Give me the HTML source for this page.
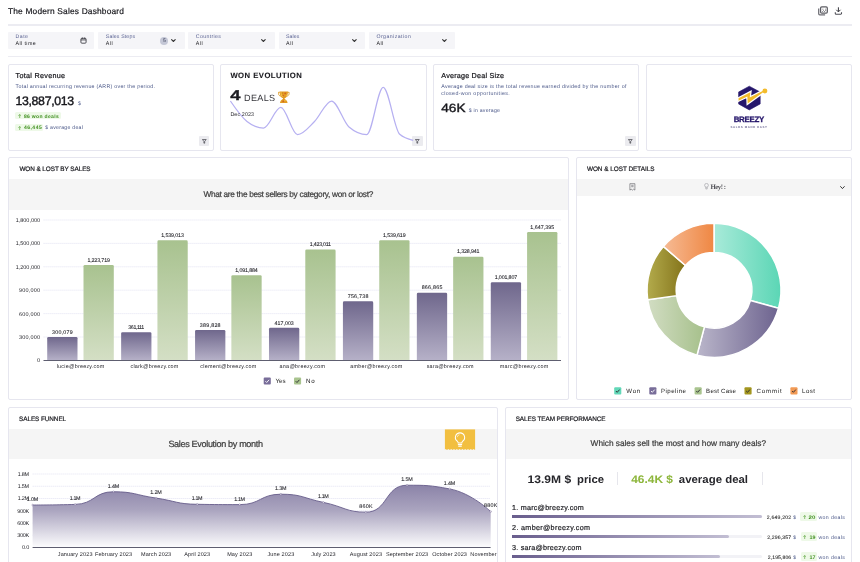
<!DOCTYPE html>
<html><head><meta charset="utf-8"><title>The Modern Sales Dashboard</title>
<style>
*{box-sizing:border-box;margin:0;padding:0}
svg{text-rendering:geometricPrecision;will-change:transform}
html,body{width:860px;height:562px;overflow:hidden;background:#fff;font-family:"Liberation Sans",sans-serif;color:#1f1f24}
.a{position:absolute;white-space:nowrap;line-height:1}
.card{position:absolute;background:#fff;border:1px solid #e6e6ef;border-radius:2px}
.hr{position:absolute;left:8px;width:844px;height:1.5px;background:#ececf2}
.fb{position:absolute;top:32px;height:17px;background:#f5f5f8;border-radius:1px}
.band{position:absolute;background:#f5f5f5}
.fbtn{position:absolute;width:10.2px;height:9.8px;background:#ebebef;border-radius:1px}
.badge{position:absolute;background:#eef9e8;border-radius:1.5px}
</style></head><body style="filter:blur(.3px)">

<svg class="a" style="left:817px;top:5px" width="12" height="12" viewBox="817 5 12 12" fill="none" stroke="#5c5c63" stroke-width="1.25"><rect x="820.6" y="6.8" width="6.7" height="6.3" rx="1.2"/><path d="M818.7 8.400v5.400a1 1 0 0 0 1 1h5.400" stroke="#6d6d74"/><path d="M822.2 11.900l1.300-1.300 1.100 1 1.300-1.400M822.4 9.200h1M825 9.200h.8" stroke-width=".8" stroke="#55555c"/></svg>
<svg class="a" style="left:833px;top:5px" width="12" height="12" viewBox="833 5 12 12" fill="none" stroke="#34343b" stroke-width="1"><path d="M838.4 7.300v4.300M836.300 9.800l2.100 2.100 2.100-2.100"/><path d="M835.300 12.200v1.200a.8.800 0 0 0 .8.800h4.600a.8.800 0 0 0 .8-.8v-1.200" stroke="#4d4d55" stroke-width="1.100"/></svg>
<div class="hr" style="top:24px"></div><div class="hr" style="top:55.700px"></div>
<div class="fb" style="left:8.0px;width:86.2px"></div>
<svg class="a" style="left:80.2px;top:37.300px" width="7" height="7" viewBox="0 0 7 7" fill="none" stroke="#2d2d35" stroke-width=".8"><rect x=".9" y="1.300" width="5.200" height="4.900" rx="1"/><path d="M.9 2.900h5.200M2.300.5v1.300M4.700.5v1.300"/></svg>
<div class="fb" style="left:98.2px;width:86.5px"></div>
<div class="a" style="left:160.200px;top:36.600px;width:8px;height:8px;border-radius:50%;background:#c4c7d6"></div>
<svg class="a" style="left:171.4px;top:38.9px" width="4.8" height="3.1" viewBox="0 0 4.8 3.1" fill="none" stroke="#333" stroke-width="1.1" stroke-linecap="round"><path d="M.6.600L2.40 2.50L4.20 .6"/></svg>
<div class="fb" style="left:188.2px;width:86.6px"></div>
<svg class="a" style="left:261.4px;top:38.9px" width="4.8" height="3.1" viewBox="0 0 4.8 3.1" fill="none" stroke="#333" stroke-width="1.1" stroke-linecap="round"><path d="M.6.600L2.40 2.50L4.20 .6"/></svg>
<div class="fb" style="left:278.5px;width:86.2px"></div>
<svg class="a" style="left:351.7px;top:38.9px" width="4.8" height="3.1" viewBox="0 0 4.8 3.1" fill="none" stroke="#333" stroke-width="1.1" stroke-linecap="round"><path d="M.6.600L2.40 2.50L4.20 .6"/></svg>
<div class="fb" style="left:368.8px;width:86.2px"></div>
<svg class="a" style="left:442.0px;top:38.9px" width="4.8" height="3.1" viewBox="0 0 4.8 3.1" fill="none" stroke="#333" stroke-width="1.1" stroke-linecap="round"><path d="M.6.600L2.40 2.50L4.20 .6"/></svg>
<div class="card" style="left:8px;top:64px;width:206px;height:87px"></div>
<div class="card" style="left:220px;top:64px;width:207px;height:87px"></div>
<div class="card" style="left:433px;top:64px;width:206px;height:87px"></div>
<div class="card" style="left:646px;top:64px;width:206px;height:87px"></div>
<div class="fbtn" style="left:199.2px;top:136px"><svg style="position:absolute;left:2.800px;top:2.900px" width="4.600" height="4.600" viewBox="0 0 4.600 4.600" fill="none" stroke="#33333a" stroke-width=".65"><path d="M.4.500h3.800L2.700 2.400v1.800H1.900V2.400z"/></svg></div>
<div class="fbtn" style="left:412.4px;top:136px"><svg style="position:absolute;left:2.800px;top:2.900px" width="4.600" height="4.600" viewBox="0 0 4.600 4.600" fill="none" stroke="#33333a" stroke-width=".65"><path d="M.4.500h3.800L2.700 2.400v1.800H1.900V2.400z"/></svg></div>
<div class="fbtn" style="left:625.4px;top:136px"><svg style="position:absolute;left:2.800px;top:2.900px" width="4.600" height="4.600" viewBox="0 0 4.600 4.600" fill="none" stroke="#33333a" stroke-width=".65"><path d="M.4.500h3.800L2.700 2.400v1.800H1.900V2.400z"/></svg></div>
<div class="badge" style="left:15.300px;top:112.300px;width:45.300px;height:7.200px"></div>
<svg class="a" style="left:17.70px;top:113.90px" width="3.4" height="4.2" viewBox="0 0 3.4 4.2" fill="none" stroke="#58a238" stroke-width=".65"><path d="M1.7 4.2V.5M.4 1.900L1.700.5 3 1.900"/></svg>
<div class="badge" style="left:15.300px;top:123.800px;width:28.200px;height:7.400px"></div>
<svg class="a" style="left:17.70px;top:125.60px" width="3.4" height="4.2" viewBox="0 0 3.4 4.2" fill="none" stroke="#58a238" stroke-width=".65"><path d="M1.7 4.2V.5M.4 1.900L1.700.5 3 1.900"/></svg>
<svg class="a" style="left:221px;top:64px" width="206" height="87" viewBox="221 64 206 87" fill="none"><path d="M230.40 101.00C235.93 109.07 241.47 117.14 247.00 121.50C252.50 125.83 258.00 128.00 263.50 128.00C269.27 128.00 275.03 107.40 280.80 107.40C286.37 107.40 291.93 134.60 297.50 134.60C303.17 134.60 308.83 127.10 314.50 121.50C320.17 115.90 325.83 101.00 331.50 101.00C337.33 101.00 343.17 121.99 349.00 127.00C354.90 132.07 360.80 134.60 366.70 134.60C372.20 134.60 377.70 87.40 383.20 87.40C388.70 87.40 394.20 129.41 399.70 134.30C404.20 138.30 408.70 139.30 413.20 140.30" stroke="#b6b0f1" stroke-width="1.25"/></svg>
<svg class="a" style="left:277px;top:90px" width="14" height="14" viewBox="277 90 14 14"><path d="M279.800 92.300h-1.300v1.200c0 1.500 1 2.500 2.400 2.700M287.800 92.300h1.300v1.200c0 1.500-1 2.500-2.400 2.700" fill="none" stroke="#dc9a24" stroke-width=".9"/><path d="M279.600 91.400h8.400c0 3.600-1.300 6-3.300 6.800-.3.100-.3.600 0 .8 1.500.7 2.600 2 2.900 3.900h-7.600c.3-1.900 1.400-3.200 2.900-3.900.3-.2.300-.7 0-.8-2-.8-3.300-3.200-3.300-6.800z" fill="#e29a22"/><path d="M281 92.200c.1 2 .6 3.600 1.500 4.600" stroke="#f6d25a" stroke-width=".8" fill="none"/><circle cx="285.200" cy="93.400" r=".8" fill="#cf5f22"/><circle cx="283.300" cy="95.600" r=".7" fill="#cf5f22"/><circle cx="286.300" cy="95.300" r=".5" fill="#f6d25a"/><circle cx="283.200" cy="101.400" r=".8" fill="#cf5f22"/><circle cx="285" cy="100.600" r=".6" fill="#f6d25a"/><circle cx="282.400" cy="93" r=".5" fill="#b9761a"/></svg>
<svg class="a" style="left:730px;top:82px" width="44" height="32" viewBox="730 82 44 32">
<path d="M749.300 86.200l10.900 5.900v11.800l-10.900 6-10.800-6V92.100z" fill="#26176b" stroke="#26176b" stroke-width=".6" stroke-linejoin="round"/>
<path d="M738.49 98.21L750.36 92.13L749.71 97.56L763.17 90.78L764.17 91.58L747.67 103.44L747.37 96.46L738.49 100.70Z" fill="#f3bb2c" stroke="#fff" stroke-width="2.4" stroke-linejoin="miter" stroke-miterlimit="8" paint-order="stroke"/>
<path d="M730 86h8.100v25h-8.100z" fill="#fff"/>
<circle cx="764.900" cy="91" r="2.450" fill="#f3bb2c"/>
</svg>
<div class="card" style="left:8px;top:157.200px;width:560.500px;height:242.600px"></div>
<div class="band" style="left:9px;top:179px;width:558.500px;height:30.800px"></div>
<svg class="a" style="left:0;top:210px" width="570" height="189" viewBox="0 210 570 189" font-family='"Liberation Sans", sans-serif'><defs><linearGradient id="gp" x1="0" y1="0" x2="0" y2="1"><stop offset="0" stop-color="#6f678c"/><stop offset="1" stop-color="#b6b1c8"/></linearGradient><linearGradient id="gg" x1="0" y1="0" x2="0" y2="1"><stop offset="0" stop-color="#a8c28f"/><stop offset="1" stop-color="#d4dfc5"/></linearGradient></defs><text x="37.10" y="362.35" font-size="5.50" fill="#26262c" letter-spacing="-0.059">0</text><line x1="43.500" x2="561" y1="337.00" y2="337.00" stroke="#e1e1f1" stroke-width=".8" stroke-dasharray="1.200 .8"/><text x="19.10" y="338.95" font-size="5.50" fill="#26262c" letter-spacing="0.186">300,000</text><line x1="43.500" x2="561" y1="313.60" y2="313.60" stroke="#e1e1f1" stroke-width=".8" stroke-dasharray="1.200 .8"/><text x="19.10" y="315.55" font-size="5.50" fill="#26262c" letter-spacing="0.186">600,000</text><line x1="43.500" x2="561" y1="290.20" y2="290.20" stroke="#e1e1f1" stroke-width=".8" stroke-dasharray="1.200 .8"/><text x="19.10" y="292.15" font-size="5.50" fill="#26262c" letter-spacing="0.186">900,000</text><line x1="43.500" x2="561" y1="266.80" y2="266.80" stroke="#e1e1f1" stroke-width=".8" stroke-dasharray="1.200 .8"/><text x="15.70" y="268.75" font-size="5.50" fill="#26262c" letter-spacing="-0.009">1,200,000</text><line x1="43.500" x2="561" y1="243.40" y2="243.40" stroke="#e1e1f1" stroke-width=".8" stroke-dasharray="1.200 .8"/><text x="15.70" y="245.35" font-size="5.50" fill="#26262c" letter-spacing="-0.009">1,500,000</text><line x1="43.500" x2="561" y1="220.00" y2="220.00" stroke="#e1e1f1" stroke-width=".8" stroke-dasharray="1.200 .8"/><text x="15.70" y="221.95" font-size="5.50" fill="#26262c" letter-spacing="-0.009">1,800,000</text><path d="M47.20 360.40V338.29q0-1.300 1.300-1.300h27.70q1.300 0 1.300 1.300V360.40z" fill="url(#gp)"/><text x="52.01" y="333.69" font-size="5.30" fill="#202026" letter-spacing="0.254" stroke="#202026" stroke-width="0.09">300,079</text><path d="M83.50 360.40V266.25q0-1.300 1.300-1.300h27.70q1.300 0 1.300 1.300V360.40z" fill="url(#gg)"/><text x="87.38" y="261.65" font-size="5.30" fill="#202026" letter-spacing="-0.129" stroke="#202026" stroke-width="0.09">1,223,719</text><text x="56.69" y="368.20" font-size="5.40" fill="#26262c" letter-spacing="0.235">lucie@breezy.com</text><path d="M121.13 360.40V333.53q0-1.300 1.300-1.300h27.70q1.300 0 1.300 1.300V360.40z" fill="url(#gp)"/><text x="128.35" y="328.93" font-size="5.30" fill="#202026" letter-spacing="-0.420" stroke="#202026" stroke-width="0.09">361,111</text><path d="M157.43 360.40V241.66q0-1.300 1.300-1.300h27.70q1.300 0 1.300 1.300V360.40z" fill="url(#gg)"/><text x="161.31" y="237.06" font-size="5.30" fill="#202026" letter-spacing="-0.129" stroke="#202026" stroke-width="0.09">1,539,013</text><text x="130.46" y="368.20" font-size="5.40" fill="#26262c" letter-spacing="0.237">clark@breezy.com</text><path d="M195.06 360.40V331.29q0-1.300 1.300-1.300h27.70q1.300 0 1.300 1.300V360.40z" fill="url(#gp)"/><text x="199.87" y="326.69" font-size="5.30" fill="#202026" letter-spacing="0.254" stroke="#202026" stroke-width="0.09">389,828</text><path d="M231.36 360.40V276.53q0-1.300 1.300-1.300h27.70q1.300 0 1.300 1.300V360.40z" fill="url(#gg)"/><text x="235.24" y="271.93" font-size="5.30" fill="#202026" letter-spacing="-0.129" stroke="#202026" stroke-width="0.09">1,091,884</text><text x="200.33" y="368.20" font-size="5.40" fill="#26262c" letter-spacing="0.244">clement@breezy.com</text><path d="M268.99 360.40V329.17q0-1.300 1.300-1.300h27.70q1.300 0 1.300 1.300V360.40z" fill="url(#gp)"/><text x="274.47" y="324.57" font-size="5.30" fill="#202026" letter-spacing="0.031" stroke="#202026" stroke-width="0.09">417,003</text><path d="M305.29 360.40V250.71q0-1.300 1.300-1.300h27.70q1.300 0 1.300 1.300V360.40z" fill="url(#gg)"/><text x="309.83" y="246.11" font-size="5.30" fill="#202026" letter-spacing="-0.247" stroke="#202026" stroke-width="0.09">1,423,011</text><text x="279.61" y="368.20" font-size="5.40" fill="#26262c" letter-spacing="0.258">ana@breezy.com</text><path d="M342.92 360.40V302.67q0-1.300 1.300-1.300h27.70q1.300 0 1.300 1.300V360.40z" fill="url(#gp)"/><text x="347.73" y="298.07" font-size="5.30" fill="#202026" letter-spacing="0.254" stroke="#202026" stroke-width="0.09">756,738</text><path d="M379.22 360.40V241.61q0-1.300 1.300-1.300h27.70q1.300 0 1.300 1.300V360.40z" fill="url(#gg)"/><text x="383.10" y="237.01" font-size="5.30" fill="#202026" letter-spacing="-0.129" stroke="#202026" stroke-width="0.09">1,539,619</text><text x="350.14" y="368.20" font-size="5.40" fill="#26262c" letter-spacing="0.258">amber@breezy.com</text><path d="M416.85 360.40V294.08q0-1.300 1.300-1.300h27.70q1.300 0 1.300 1.300V360.40z" fill="url(#gp)"/><text x="421.66" y="289.48" font-size="5.30" fill="#202026" letter-spacing="0.254" stroke="#202026" stroke-width="0.09">866,865</text><path d="M453.15 360.40V258.04q0-1.300 1.300-1.300h27.70q1.300 0 1.300 1.300V360.40z" fill="url(#gg)"/><text x="457.03" y="253.44" font-size="5.30" fill="#202026" letter-spacing="-0.129" stroke="#202026" stroke-width="0.09">1,328,941</text><text x="426.66" y="368.20" font-size="5.40" fill="#26262c" letter-spacing="0.249">sara@breezy.com</text><path d="M490.78 360.40V283.56q0-1.300 1.300-1.300h27.70q1.300 0 1.300 1.300V360.40z" fill="url(#gp)"/><text x="494.66" y="278.96" font-size="5.30" fill="#202026" letter-spacing="-0.129" stroke="#202026" stroke-width="0.09">1,001,807</text><path d="M527.08 360.40V233.20q0-1.300 1.300-1.300h27.70q1.300 0 1.300 1.300V360.40z" fill="url(#gg)"/><text x="530.29" y="228.60" font-size="5.30" fill="#202026" letter-spacing="0.039" stroke="#202026" stroke-width="0.09">1,647,395</text><text x="499.79" y="368.20" font-size="5.40" fill="#26262c" letter-spacing="0.257">marc@breezy.com</text><line x1="43.500" x2="561" y1="360.40" y2="360.40" stroke="#5e5e70" stroke-width="1.05"/><rect x="263.70" y="377.50" width="7.100" height="7.100" rx="1" fill="#786d99"/><path d="M265.40 381.20l1.300 1.300 2.400-2.700" fill="none" stroke="#fff" stroke-width=".9"/><text x="275.40" y="383.40" font-size="6.20" fill="#222" letter-spacing="0.043">Yes</text><rect x="294.00" y="377.50" width="7.100" height="7.100" rx="1" fill="#a9c48f"/><path d="M295.70 381.20l1.300 1.300 2.400-2.700" fill="none" stroke="#2a2a30" stroke-width=".9"/><text x="306.00" y="383.40" font-size="6.20" fill="#222" letter-spacing="0.774">No</text></svg>
<div class="card" style="left:576px;top:157.200px;width:276px;height:242.600px"></div>
<div class="band" style="left:577px;top:179px;width:274px;height:17.300px"></div>
<svg class="a" style="left:628.500px;top:182.500px" width="7" height="8" viewBox="0 0 7 8" fill="none" stroke="#55555c" stroke-width=".6"><path d="M.9.700h5v6.400l-1.300-.9-1.200.9-1.200-.9-1.300.9z"/><path d="M2.200 2.300h2.400M2.200 3.700h2.400"/></svg>
<svg class="a" style="left:703.700px;top:183px" width="5" height="7" viewBox="0 0 5 7" fill="none" stroke="#8a8a90" stroke-width=".5"><circle cx="2.500" cy="2.300" r="1.900"/><path d="M1.800 4.100v1.900h1.400V4.100"/></svg>
<svg class="a" style="left:840.0px;top:185.9px" width="4.9" height="3.2" viewBox="0 0 4.9 3.2" fill="none" stroke="#333" stroke-width="1.0" stroke-linecap="round"><path d="M.6.600L2.45 2.60L4.30 .6"/></svg>
<svg class="a" style="left:640px;top:218px" width="150" height="145" viewBox="640 218 150 145"><defs><linearGradient id="dwon" x1="0" y1="0" x2="1" y2="0"><stop offset="0" stop-color="#a8ead9"/><stop offset="1" stop-color="#5bd6b5"/></linearGradient><linearGradient id="dpip" x1="0" y1="0" x2="1" y2="0"><stop offset="0" stop-color="#bab6ca"/><stop offset="1" stop-color="#6d638f"/></linearGradient><linearGradient id="dbc" x1="0" y1="0" x2="1" y2="0"><stop offset="0" stop-color="#d2ddc3"/><stop offset="1" stop-color="#a6c08b"/></linearGradient><linearGradient id="dcom" x1="0" y1="0" x2="1" y2="0"><stop offset="0" stop-color="#b3ab4c"/><stop offset="1" stop-color="#83731a"/></linearGradient><linearGradient id="dlost" x1="0" y1="0" x2="1" y2="0"><stop offset="0" stop-color="#f6bb95"/><stop offset="1" stop-color="#ef8743"/></linearGradient></defs><path d="M714.00 223.30A67 67 0 0 1 778.53 308.32L750.41 300.47A37.8 37.8 0 0 0 714.00 252.50Z" fill="url(#dwon)" stroke="#fff" stroke-width="1.500" stroke-linejoin="round"/><path d="M778.53 308.32A67 67 0 0 1 697.00 355.11L704.41 326.86A37.8 37.8 0 0 0 750.41 300.47Z" fill="url(#dpip)" stroke="#fff" stroke-width="1.500" stroke-linejoin="round"/><path d="M697.00 355.11A67 67 0 0 1 647.67 299.74L676.58 295.63A37.8 37.8 0 0 0 704.41 326.86Z" fill="url(#dbc)" stroke="#fff" stroke-width="1.500" stroke-linejoin="round"/><path d="M647.67 299.74A67 67 0 0 1 663.36 246.43L685.43 265.55A37.8 37.8 0 0 0 676.58 295.63Z" fill="url(#dcom)" stroke="#fff" stroke-width="1.500" stroke-linejoin="round"/><path d="M663.36 246.43A67 67 0 0 1 714.00 223.30L714.00 252.50A37.8 37.8 0 0 0 685.43 265.55Z" fill="url(#dlost)" stroke="#fff" stroke-width="1.500" stroke-linejoin="round"/></svg>
<svg class="a" style="left:600px;top:384px" width="250" height="14" viewBox="600 384 250 14" font-family='"Liberation Sans", sans-serif'><rect x="614.20" y="387.30" width="7.100" height="7.100" rx="1" fill="#62d8b8"/><path d="M615.90 391.00l1.300 1.300 2.400-2.700" fill="none" stroke="#2a2a30" stroke-width=".9"/><text x="626.30" y="393.00" font-size="6.10" fill="#222" letter-spacing="0.734">Won</text><rect x="649.30" y="387.30" width="7.100" height="7.100" rx="1" fill="#786d99"/><path d="M651.00 391.00l1.300 1.300 2.400-2.700" fill="none" stroke="#fff" stroke-width=".9"/><text x="661.00" y="393.00" font-size="6.10" fill="#222" letter-spacing="0.456">Pipeline</text><rect x="694.60" y="387.30" width="7.100" height="7.100" rx="1" fill="#a9c48f"/><path d="M696.30 391.00l1.300 1.300 2.400-2.700" fill="none" stroke="#2a2a30" stroke-width=".9"/><text x="706.10" y="393.00" font-size="6.10" fill="#222" letter-spacing="0.220">Best Case</text><rect x="744.50" y="387.30" width="7.100" height="7.100" rx="1" fill="#a3961f"/><path d="M746.20 391.00l1.300 1.300 2.400-2.700" fill="none" stroke="#2a2a30" stroke-width=".9"/><text x="756.60" y="393.00" font-size="6.10" fill="#222" letter-spacing="0.818">Commit</text><rect x="790.40" y="387.30" width="7.100" height="7.100" rx="1" fill="#f29a55"/><path d="M792.10 391.00l1.300 1.300 2.400-2.700" fill="none" stroke="#2a2a30" stroke-width=".9"/><text x="802.00" y="393.00" font-size="6.10" fill="#222" letter-spacing="0.490">Lost</text></svg>
<div class="card" style="left:8px;top:406.800px;width:489.500px;height:170px"></div>
<div class="band" style="left:9px;top:428.800px;width:487.500px;height:30.200px"></div>
<svg class="a" style="left:444px;top:428px" width="33" height="24" viewBox="444 428 33 24"><rect x="444.900" y="429.400" width="30.200" height="20.400" fill="#f2bf40"/><path d="M444.900 450h30.200" stroke="#f5f5f5" stroke-width="1.300" stroke-dasharray="1.400 1.400"/><g fill="none" stroke="#fff" stroke-width="1.05"><path d="M460 432.900a4.600 4.600 0 0 0-2.600 8.400c.5.400.8 1 .8 1.700h3.600c0-.7.300-1.300.8-1.700a4.600 4.600 0 0 0-2.600-8.400z"/><path d="M458.300 444.600h3.400M458.700 446.200h2.600" stroke-linecap="round"/><path d="M457.200 437.200a2.800 2.800 0 0 1 2.200-2.500" stroke-width=".6"/></g></svg>
<svg class="a" style="left:9px;top:460px" width="488" height="102" viewBox="9 460 488 102" font-family='"Liberation Sans", sans-serif'><defs><linearGradient id="ga" gradientUnits="userSpaceOnUse" x1="0" y1="485" x2="0" y2="547.500"><stop offset="0" stop-color="#8b83a8"/><stop offset=".4" stop-color="#aaa4bf"/><stop offset="1" stop-color="#fdfdfe"/></linearGradient></defs><text x="22.09" y="549.45" font-size="5.50" fill="#26262c" letter-spacing="-0.268">0.0</text><line x1="32.600" x2="490.600" y1="535.25" y2="535.25" stroke="#e1e1f1" stroke-width=".8" stroke-dasharray="1.200 .8"/><text x="17.25" y="537.20" font-size="5.50" fill="#26262c" letter-spacing="-0.300">300K</text><line x1="32.600" x2="490.600" y1="523.00" y2="523.00" stroke="#e1e1f1" stroke-width=".8" stroke-dasharray="1.200 .8"/><text x="17.25" y="524.95" font-size="5.50" fill="#26262c" letter-spacing="-0.300">600K</text><line x1="32.600" x2="490.600" y1="510.75" y2="510.75" stroke="#e1e1f1" stroke-width=".8" stroke-dasharray="1.200 .8"/><text x="17.25" y="512.70" font-size="5.50" fill="#26262c" letter-spacing="-0.300">900K</text><line x1="32.600" x2="490.600" y1="498.50" y2="498.50" stroke="#e1e1f1" stroke-width=".8" stroke-dasharray="1.200 .8"/><text x="17.83" y="500.45" font-size="5.50" fill="#26262c" letter-spacing="-0.285">1.2M</text><line x1="32.600" x2="490.600" y1="486.25" y2="486.25" stroke="#e1e1f1" stroke-width=".8" stroke-dasharray="1.200 .8"/><text x="17.83" y="488.20" font-size="5.50" fill="#26262c" letter-spacing="-0.285">1.5M</text><line x1="32.600" x2="490.600" y1="474.00" y2="474.00" stroke="#e1e1f1" stroke-width=".8" stroke-dasharray="1.200 .8"/><text x="17.83" y="475.95" font-size="5.50" fill="#26262c" letter-spacing="-0.285">1.8M</text><path d="M32.60 505.03C32.60 505.03 54.38 505.03 75.12 504.42C94.84 503.84 93.91 491.76 113.52 491.76C134.37 491.76 134.78 494.91 156.04 498.09C176.62 501.17 176.50 503.98 197.19 504.30C218.33 504.62 218.77 504.62 239.71 504.62C260.60 504.62 260.14 494.21 280.85 494.21C301.98 494.21 302.19 497.90 323.37 502.38C344.71 506.89 346.22 512.18 365.89 512.18C388.06 512.18 384.64 485.23 407.04 485.23C426.47 485.23 429.64 485.23 449.55 488.90C471.47 492.95 490.70 511.57 490.70 511.57L490.70 547.50L32.60 547.50Z" fill="url(#ga)"/><path d="M32.60 505.03C32.60 505.03 54.38 505.03 75.12 504.42C94.84 503.84 93.91 491.76 113.52 491.76C134.37 491.76 134.78 494.91 156.04 498.09C176.62 501.17 176.50 503.98 197.19 504.30C218.33 504.62 218.77 504.62 239.71 504.62C260.60 504.62 260.14 494.21 280.85 494.21C301.98 494.21 302.19 497.90 323.37 502.38C344.71 506.89 346.22 512.18 365.89 512.18C388.06 512.18 384.64 485.23 407.04 485.23C426.47 485.23 429.64 485.23 449.55 488.90C471.47 492.95 490.70 511.57 490.70 511.57" fill="none" stroke="#675c8a" stroke-width=".9"/><circle cx="32.60" cy="505.03" r=".8" fill="#fff" stroke="#675c8a" stroke-width=".4"/><text x="26.86" y="500.93" font-size="5.40" fill="#26262c" letter-spacing="-0.177" stroke="#26262c" stroke-width="0.08">1.0M</text><circle cx="75.12" cy="504.42" r=".8" fill="#fff" stroke="#675c8a" stroke-width=".4"/><text x="69.75" y="500.32" font-size="5.40" fill="#26262c" letter-spacing="-0.420" stroke="#26262c" stroke-width="0.08">1.1M</text><circle cx="113.52" cy="491.76" r=".8" fill="#fff" stroke="#675c8a" stroke-width=".4"/><text x="107.78" y="487.66" font-size="5.40" fill="#26262c" letter-spacing="-0.177" stroke="#26262c" stroke-width="0.08">1.4M</text><circle cx="156.04" cy="498.09" r=".8" fill="#fff" stroke="#675c8a" stroke-width=".4"/><text x="150.30" y="493.99" font-size="5.40" fill="#26262c" letter-spacing="-0.177" stroke="#26262c" stroke-width="0.08">1.2M</text><circle cx="197.19" cy="504.30" r=".8" fill="#fff" stroke="#675c8a" stroke-width=".4"/><text x="191.81" y="500.20" font-size="5.40" fill="#26262c" letter-spacing="-0.420" stroke="#26262c" stroke-width="0.08">1.1M</text><circle cx="239.71" cy="504.62" r=".8" fill="#fff" stroke="#675c8a" stroke-width=".4"/><text x="234.33" y="500.52" font-size="5.40" fill="#26262c" letter-spacing="-0.420" stroke="#26262c" stroke-width="0.08">1.1M</text><circle cx="280.85" cy="494.21" r=".8" fill="#fff" stroke="#675c8a" stroke-width=".4"/><text x="275.11" y="490.11" font-size="5.40" fill="#26262c" letter-spacing="-0.177" stroke="#26262c" stroke-width="0.08">1.3M</text><circle cx="323.37" cy="502.38" r=".8" fill="#fff" stroke="#675c8a" stroke-width=".4"/><text x="318.00" y="498.28" font-size="5.40" fill="#26262c" letter-spacing="-0.420" stroke="#26262c" stroke-width="0.08">1.1M</text><circle cx="365.89" cy="512.18" r=".8" fill="#fff" stroke="#675c8a" stroke-width=".4"/><text x="359.14" y="508.08" font-size="5.40" fill="#26262c" letter-spacing="0.292" stroke="#26262c" stroke-width="0.08">860K</text><circle cx="407.04" cy="485.23" r=".8" fill="#fff" stroke="#675c8a" stroke-width=".4"/><text x="401.30" y="481.13" font-size="5.40" fill="#26262c" letter-spacing="-0.177" stroke="#26262c" stroke-width="0.08">1.5M</text><circle cx="449.55" cy="488.90" r=".8" fill="#fff" stroke="#675c8a" stroke-width=".4"/><text x="443.82" y="484.80" font-size="5.40" fill="#26262c" letter-spacing="-0.177" stroke="#26262c" stroke-width="0.08">1.4M</text><circle cx="490.70" cy="511.57" r=".8" fill="#fff" stroke="#675c8a" stroke-width=".4"/><text x="483.96" y="507.47" font-size="5.40" fill="#26262c" letter-spacing="0.292" stroke="#26262c" stroke-width="0.08">880K</text><line x1="32.600" x2="490.600" y1="547.50" y2="547.50" stroke="#5e5e70" stroke-width="1.05"/><text x="57.79" y="555.60" font-size="5.50" fill="#26262c" letter-spacing="0.121">January 2023</text><text x="94.92" y="555.60" font-size="5.50" fill="#26262c" letter-spacing="0.119">February 2023</text><text x="140.94" y="555.60" font-size="5.50" fill="#26262c" letter-spacing="0.129">March 2023</text><text x="184.31" y="555.60" font-size="5.50" fill="#26262c" letter-spacing="0.110">April 2023</text><text x="227.15" y="555.60" font-size="5.50" fill="#26262c" letter-spacing="0.138">May 2023</text><text x="267.49" y="555.60" font-size="5.50" fill="#26262c" letter-spacing="0.128">June 2023</text><text x="311.13" y="555.60" font-size="5.50" fill="#26262c" letter-spacing="0.118">July 2023</text><text x="349.83" y="555.60" font-size="5.50" fill="#26262c" letter-spacing="0.124">August 2023</text><text x="385.89" y="555.60" font-size="5.50" fill="#26262c" letter-spacing="0.125">September 2023</text><text x="432.22" y="555.60" font-size="5.50" fill="#26262c" letter-spacing="0.121">October 2023</text><text x="470.35" y="555.60" font-size="5.50" fill="#26262c" letter-spacing="0.130">November 2023</text></svg>
<div class="card" style="left:504.600px;top:406.800px;width:347.400px;height:170px"></div>
<div class="band" style="left:505.600px;top:428.800px;width:345.400px;height:30.200px"></div>
<div class="a" style="left:616.800px;top:472.400px;width:1px;height:12.800px;background:#e6e6ec"></div>
<div class="a" style="left:762px;top:472.400px;width:1px;height:12.800px;background:#e6e6ec"></div>
<div class="a" style="left:512.100px;top:514.7px;width:250.400px;height:3.300px;border-radius:0 1.600px 1.600px 0;background:#f2f2f6"></div>
<div class="a" style="left:512.100px;top:514.7px;width:250.4px;height:3.300px;border-radius:0 1.600px 1.600px 0;background:linear-gradient(90deg,#695e8d,#c2bed3)"></div>
<div class="badge" style="left:800.3px;top:512.2px;width:16.6px;height:8.400px"></div>
<svg class="a" style="left:802.80px;top:514.50px" width="3.4" height="4.2" viewBox="0 0 3.4 4.2" fill="none" stroke="#58a238" stroke-width=".65"><path d="M1.7 4.2V.5M.4 1.900L1.700.5 3 1.900"/></svg>
<div class="a" style="left:512.100px;top:534.8px;width:250.400px;height:3.300px;border-radius:0 1.600px 1.600px 0;background:#f2f2f6"></div>
<div class="a" style="left:512.100px;top:534.8px;width:217.4px;height:3.300px;border-radius:0 1.600px 1.600px 0;background:linear-gradient(90deg,#695e8d,#c2bed3)"></div>
<div class="badge" style="left:801.4px;top:532.2px;width:15.5px;height:8.400px"></div>
<svg class="a" style="left:802.80px;top:534.55px" width="3.4" height="4.2" viewBox="0 0 3.4 4.2" fill="none" stroke="#58a238" stroke-width=".65"><path d="M1.7 4.2V.5M.4 1.900L1.700.5 3 1.900"/></svg>
<div class="a" style="left:512.100px;top:554.8px;width:250.400px;height:3.300px;border-radius:0 1.600px 1.600px 0;background:#f2f2f6"></div>
<div class="a" style="left:512.100px;top:554.8px;width:207.6px;height:3.300px;border-radius:0 1.600px 1.600px 0;background:linear-gradient(90deg,#695e8d,#c2bed3)"></div>
<div class="badge" style="left:801.4px;top:552.3px;width:15.5px;height:8.400px"></div>
<svg class="a" style="left:802.80px;top:554.60px" width="3.4" height="4.2" viewBox="0 0 3.4 4.2" fill="none" stroke="#58a238" stroke-width=".65"><path d="M1.7 4.2V.5M.4 1.900L1.700.5 3 1.900"/></svg>
<svg class="a" style="left:0;top:0;text-rendering:geometricPrecision;will-change:transform" width="860" height="562" viewBox="0 0 860 562" font-family='"Liberation Sans", sans-serif'><text x="8.00" y="13.90" font-size="8.40" fill="#17171c" letter-spacing="0.169" stroke="#17171c" stroke-width="0.18">The Modern Sales Dashboard</text><text x="15.60" y="38.30" font-size="5.20" fill="#5d6594" letter-spacing="0.472">Date</text><text x="15.60" y="45.30" font-size="5.30" fill="#1d1d22" letter-spacing="0.389">All time</text><text x="105.80" y="38.30" font-size="5.20" fill="#5d6594" letter-spacing="0.155">Sales Steps</text><text x="105.80" y="45.30" font-size="5.30" fill="#1d1d22" letter-spacing="0.505">All</text><text x="162.90" y="42.40" font-size="5.00" fill="#33374f">5</text><text x="195.80" y="38.30" font-size="5.20" fill="#5d6594" letter-spacing="0.368">Countries</text><text x="195.80" y="45.30" font-size="5.30" fill="#1d1d22" letter-spacing="0.505">All</text><text x="286.10" y="38.30" font-size="5.20" fill="#5d6594" letter-spacing="0.048">Sales</text><text x="286.10" y="45.30" font-size="5.30" fill="#1d1d22" letter-spacing="0.505">All</text><text x="376.40" y="38.30" font-size="5.20" fill="#5d6594" letter-spacing="0.456">Organization</text><text x="376.40" y="45.30" font-size="5.30" fill="#1d1d22" letter-spacing="0.505">All</text><text x="15.60" y="78.00" font-size="7.20" fill="#17171c" letter-spacing="0.297" stroke="#17171c" stroke-width="0.22">Total Revenue</text><text x="15.60" y="88.00" font-size="5.30" fill="#4c5989" letter-spacing="0.256">Total annual recurring revenue (ARR) over the period.</text><text x="15.40" y="105.10" font-size="12.30" fill="#17171c" letter-spacing="-0.307" stroke="#17171c" stroke-width="0.40">13,887,013</text><text x="78.10" y="105.30" font-size="5.30" fill="#4c5989">$</text><text x="23.90" y="117.60" font-size="5.00" fill="#3f8f1f" letter-spacing="0.334" font-weight="bold">86 won deals</text><text x="23.90" y="129.30" font-size="5.00" fill="#3f8f1f" letter-spacing="0.501" font-weight="bold">46,445</text><text x="45.20" y="129.30" font-size="5.20" fill="#4c5989" letter-spacing="0.261">$ average deal</text><text x="230.40" y="78.30" font-size="7.70" fill="#1a1a1f" letter-spacing="0.469" font-weight="bold" stroke="#1a1a1f" stroke-width="0.10">WON EVOLUTION</text><text transform="translate(230.2,100) scale(1.3,1)" font-size="14.2" font-weight="bold" fill="#1c1c21" stroke="#1c1c21" stroke-width=".3">4</text><text x="244.00" y="100.60" font-size="9.10" fill="#34343a" letter-spacing="0.315">DEALS</text><text x="230.40" y="116.40" font-size="5.30" fill="#26262c" letter-spacing="0.130">Dec 2023</text><text x="441.30" y="78.00" font-size="7.20" fill="#17171c" letter-spacing="0.206" stroke="#17171c" stroke-width="0.22">Average Deal Size</text><text x="441.30" y="88.00" font-size="5.30" fill="#4c5989" letter-spacing="0.281">Average deal size is the total revenue earned divided by the number of</text><text x="441.30" y="94.50" font-size="5.30" fill="#4c5989" letter-spacing="0.346">closed-won opportunities.</text><text transform="translate(441.20,112) scale(1.1381,1)" font-size="12.00" fill="#17171c" stroke="#17171c" stroke-width="0.40">46K</text><text x="468.70" y="111.60" font-size="5.20" fill="#4c5989" letter-spacing="0.244">$ in average</text><text x="733.70" y="121.80" font-size="7.90" fill="#26176b" letter-spacing="-0.289" font-weight="bold" stroke="#26176b" stroke-width="0.30">BREEZY</text><text x="730.50" y="128.10" font-size="2.90" fill="#6f6a95" letter-spacing="0.627" font-weight="bold">SALES MADE EASY</text><text x="19.40" y="171.00" font-size="6.40" fill="#1b1b20" letter-spacing="-0.077" stroke="#1b1b20" stroke-width="0.20">WON &amp; LOST BY SALES</text><text x="203.50" y="196.60" font-size="8.30" fill="#3d3d3d" letter-spacing="-0.319" stroke="#3d3d3d" stroke-width="0.20">What are the best sellers by category, won or lost?</text><text x="586.90" y="171.00" font-size="6.40" fill="#1b1b20" letter-spacing="-0.014" stroke="#1b1b20" stroke-width="0.20">WON &amp; LOST DETAILS</text><text x="710.40" y="188.80" font-size="6.80" fill="#4f4f55" letter-spacing="-0.467" font-weight="bold" font-family="Liberation Serif">Hey! :</text><text x="19.10" y="421.00" font-size="6.40" fill="#1b1b20" letter-spacing="-0.083" stroke="#1b1b20" stroke-width="0.20">SALES FUNNEL</text><text x="168.40" y="446.80" font-size="9.10" fill="#3d3d3d" letter-spacing="-0.347" stroke="#3d3d3d" stroke-width="0.22">Sales Evolution by month</text><text x="515.70" y="421.00" font-size="6.40" fill="#1b1b20" letter-spacing="-0.078" stroke="#1b1b20" stroke-width="0.20">SALES TEAM PERFORMANCE</text><text x="590.60" y="446.40" font-size="8.30" fill="#3d3d3d" letter-spacing="-0.027" stroke="#3d3d3d" stroke-width="0.20">Which sales sell the most and how many deals?</text><text transform="translate(527.60,483) scale(1.0970,1)" font-size="11.00" fill="#26262b" font-weight="bold">13.9M $</text><text transform="translate(577.00,483) scale(1.0269,1)" font-size="11.00" fill="#26262b" font-weight="bold">price</text><text transform="translate(631.20,483) scale(1.0850,1)" font-size="11.00" fill="#8db63b" font-weight="bold">46.4K $</text><text transform="translate(678.80,483) scale(1.0382,1)" font-size="11.00" fill="#26262b" font-weight="bold">average deal</text><text x="512.10" y="510.10" font-size="7.20" fill="#1d1d22" letter-spacing="0.224" stroke="#1d1d22" stroke-width="0.20">1. marc@breezy.com</text><text x="766.70" y="518.70" font-size="5.10" fill="#222" letter-spacing="0.226" stroke="#222" stroke-width="0.08">2,649,202</text><text x="793.30" y="518.70" font-size="5.00" fill="#4c5989">$</text><text transform="translate(808.60,519) scale(1.1987,1)" font-size="5.10" fill="#3f8f1f" font-weight="bold">20</text><text x="818.40" y="518.70" font-size="5.20" fill="#4c5989" letter-spacing="0.386">won deals</text><text x="512.10" y="530.15" font-size="7.20" fill="#1d1d22" letter-spacing="0.317" stroke="#1d1d22" stroke-width="0.20">2. amber@breezy.com</text><text x="767.30" y="538.75" font-size="5.10" fill="#222" letter-spacing="0.151" stroke="#222" stroke-width="0.08">2,296,357</text><text x="793.30" y="538.75" font-size="5.00" fill="#4c5989">$</text><text transform="translate(809.40,539) scale(1.0577,1)" font-size="5.10" fill="#3f8f1f" font-weight="bold">19</text><text x="818.40" y="538.75" font-size="5.20" fill="#4c5989" letter-spacing="0.386">won deals</text><text x="512.10" y="550.20" font-size="7.20" fill="#1d1d22" letter-spacing="0.206" stroke="#1d1d22" stroke-width="0.20">3. sara@breezy.com</text><text x="767.80" y="558.80" font-size="5.10" fill="#222" letter-spacing="0.089" stroke="#222" stroke-width="0.08">2,195,806</text><text x="793.30" y="558.80" font-size="5.00" fill="#4c5989">$</text><text transform="translate(809.40,559) scale(1.0577,1)" font-size="5.10" fill="#3f8f1f" font-weight="bold">17</text><text x="818.40" y="558.80" font-size="5.20" fill="#4c5989" letter-spacing="0.386">won deals</text></svg>
</body></html>
